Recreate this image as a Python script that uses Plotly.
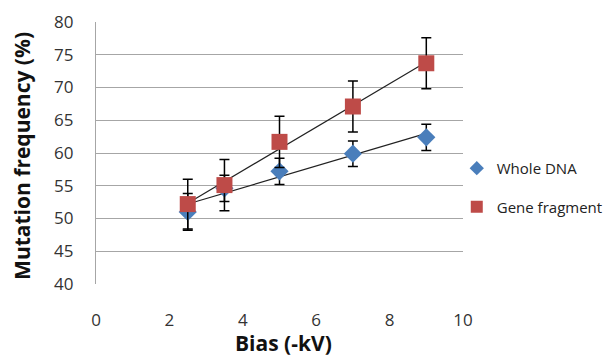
import numpy as np
import plotly.graph_objects as go

bias = [2.5, 3.5, 5, 7, 9]
whole_dna = [51.0, 54.6, 57.2, 59.9, 62.4]
whole_dna_err = [2.8, 2.0, 2.0, 1.95, 2.0]
gene_fragment = [52.2, 55.1, 61.7, 67.1, 73.7]
gene_fragment_err = [3.8, 3.9, 3.9, 3.9, 3.9]

x_ticks = [0, 2, 4, 6, 8, 10]
y_ticks = [40, 45, 50, 55, 60, 65, 70, 75, 80]

blue = "#4a7ebb"
red = "#be4b48"
font_family = "Open Sans, Liberation Sans, sans-serif"

fig = go.Figure()

def trend(xs, ys):
    m, b = np.polyfit(xs, ys, 1)
    x0, x1 = min(xs), max(xs)
    return [x0, x1], [m * x0 + b, m * x1 + b]

for ys in (whole_dna, gene_fragment):
    tx, ty = trend(bias, ys)
    fig.add_trace(go.Scatter(x=tx, y=ty, mode="lines", line=dict(color="#222222", width=1.2),
                             showlegend=False, hoverinfo="skip"))

fig.add_trace(go.Scatter(
    x=bias, y=whole_dna, mode="markers", name="Whole DNA", showlegend=False,
    marker=dict(symbol="diamond", size=14, color=blue),
    error_y=dict(type="data", array=whole_dna_err, color="black", thickness=1.5, width=5),
))
fig.add_trace(go.Scatter(
    x=bias, y=gene_fragment, mode="markers", name="Gene fragment", showlegend=False,
    marker=dict(symbol="square", size=16, color=red),
    error_y=dict(type="data", array=gene_fragment_err, color="black", thickness=1.5, width=5),
))
# legend entries (smaller markers as in the reference legend)
fig.add_trace(go.Scatter(x=[None], y=[None], mode="markers", name="Whole DNA", legendgroup="a",
                         marker=dict(symbol="diamond", size=11, color=blue)))
fig.add_trace(go.Scatter(x=[None], y=[None], mode="markers", name="Gene fragment", legendgroup="b",
                         marker=dict(symbol="square", size=12, color=red)))

# the page body has an 8px margin, so the figure is 8px smaller than the window
fig.update_layout(
    width=604, height=351,
    margin=dict(l=88, r=149, t=14, b=75, autoexpand=False),
    paper_bgcolor="white", plot_bgcolor="white",
    font=dict(family=font_family, size=17, color="#333333"),
    showlegend=True,
    legend=dict(xref="container", yref="container", x=0.743, y=0.59,
                xanchor="left", yanchor="top",
                font=dict(size=15, color="#222222"), tracegroupgap=16,
                itemwidth=30, bgcolor="rgba(0,0,0,0)"),
    xaxis=dict(range=[0, 10], tickvals=x_ticks, showgrid=False, zeroline=False,
               showline=False, ticks="", ticklabelstandoff=24, automargin=False),
    yaxis=dict(range=[40, 80], tickvals=y_ticks, showgrid=True, gridcolor="#a6a6a6", gridwidth=1.2,
               zeroline=False, showline=True, linecolor="#a6a6a6", linewidth=1.2, ticks="",
               ticklabelstandoff=18, automargin=False),
    annotations=[
        dict(text="<b>Bias (-kV)</b>", xref="paper", yref="paper", x=0.512, y=-0.225,
             xanchor="center", yanchor="middle", showarrow=False,
             font=dict(size=21, color="#111111")),
        dict(text="<b>Mutation frequency (%)</b>", xref="paper", yref="paper", x=-0.2016, y=0.489,
             xanchor="center", yanchor="middle", textangle=-90, showarrow=False,
             font=dict(size=21, color="#111111")),
    ],
)

fig.write_html("out.html")
